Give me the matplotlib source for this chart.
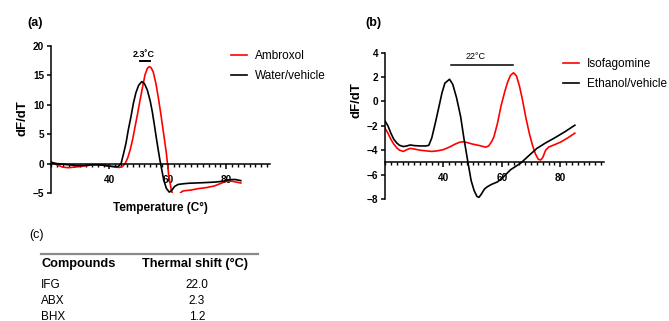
import matplotlib.pyplot as plt
from matplotlib.ticker import MultipleLocator
from matplotlib.lines import Line2D

plt.rcParams['font.family'] = ['Liberation Sans', 'DejaVu Sans']

# (a) melt curves, ambroxol vs water vehicle
temp_abx = [20, 22, 24, 26, 28, 30, 32, 34, 36, 38, 40, 42, 43.5, 44.5, 45.4, 46.3,
            47.1, 48, 48.8, 49.7, 50.5, 51.4, 52.2, 53, 53.65, 54.3, 55, 55.9, 56.7,
            57.6, 58.4, 59, 59.5, 60.3, 61.2, 62, 62.8, 63.6, 64.3, 65, 66, 68, 70.5,
            73, 76, 78, 80, 82, 84, 85]
dfdt_abx = [0.3, -0.2, -0.6, -0.7, -0.6, -0.5, -0.35, -0.25, -0.2, -0.25, -0.4, -0.6,
            -0.65, -0.5, 0.0, 1.0, 2.3, 4.2, 6.3, 8.6, 10.8, 13.1, 15.1, 16.2, 16.5,
            16.3, 15.6, 13.7, 11.4, 8.5, 5.7, 3.6, 1.8, -1.9, -4.5, -5.8, -6.0, -5.5,
            -5.0, -4.7, -4.6, -4.5, -4.25, -4.1, -3.8, -3.4, -3.0, -3.0, -3.2, -3.3]

temp_water = [20, 22, 24, 26, 28, 30, 32, 34, 36, 38, 40, 42, 43, 44, 45, 45.7, 46.5,
              47.4, 48.2, 49.05, 50, 51.1, 52, 53, 54, 54.7, 55.4, 56, 56.7, 57.3, 58,
              58.6, 59.5, 60.5, 61.3, 62.3, 63.5, 65, 67, 72, 76, 79, 81, 83, 85]
dfdt_water = [0.2, 0.0, -0.1, -0.2, -0.3, -0.35, -0.3, -0.2, -0.2, -0.3, -0.45, -0.5,
              -0.5, 0.0, 2.0, 3.5, 5.8, 8.0, 10.2, 12.0, 13.3, 13.95, 13.6, 12.5, 10.6,
              8.8, 6.6, 4.6, 2.4, 0.6, -1.2, -2.8, -4.2, -4.85, -4.6, -3.9, -3.55,
              -3.45, -3.35, -3.25, -3.15, -3.0, -2.75, -2.7, -2.9]

# (b) melt curves, isofagomine vs ethanol vehicle
temp_ifg = [20, 21, 22, 23, 24, 25, 26.3, 27.5, 28.6, 30, 32, 34, 36, 38, 40, 42, 44,
            45.5, 47, 48.5, 50, 52, 54.5, 55.5, 56.5, 57.3, 58.5, 59.7, 61, 62, 63, 64,
            65, 66, 67.1, 68.2, 69.4, 70.5, 71.5, 72.5, 73.3, 74, 75, 76, 78, 80, 82.5, 85]
dfdt_ifg = [-2.2, -2.6, -3.1, -3.5, -3.8, -4.0, -4.1, -3.95, -3.85, -3.9, -4.0, -4.05,
            -4.1, -4.05, -3.95, -3.75, -3.5, -3.35, -3.3, -3.4, -3.5, -3.6, -3.75, -3.65,
            -3.3, -2.9, -1.8, -0.4, 0.8, 1.6, 2.15, 2.35, 2.1, 1.3, 0.1, -1.3, -2.6,
            -3.6, -4.3, -4.75, -4.8, -4.6, -4.0, -3.75, -3.55, -3.35, -3.0, -2.6]

temp_eth = [20, 21, 22, 23, 24, 25, 26.3, 27.5, 28.6, 30, 32, 34, 35, 36, 37.2, 38.5,
            39.5, 40.5, 42.1, 43.2, 44.5, 45.9, 47, 48.4, 49.5, 50.5, 51.5, 52.2, 53,
            54, 55, 56.5, 58.5, 60.5, 63, 66.5, 69, 72, 75, 78, 81.5, 85]
dfdt_eth = [-1.6, -2.0, -2.6, -3.1, -3.4, -3.6, -3.7, -3.65, -3.57, -3.62, -3.65, -3.65,
            -3.6, -3.0, -1.8, -0.4, 0.7, 1.5, 1.82, 1.4, 0.3, -1.25, -3.0, -5.0, -6.5,
            -7.3, -7.8, -7.86, -7.6, -7.2, -7.0, -6.8, -6.6, -6.2, -5.6, -5.05, -4.5,
            -3.85, -3.4, -3.0, -2.5, -1.95]

# (c) thermal shift summary
compounds = ['IFG', 'ABX', 'BHX']
shifts = ['22.0', '2.3', '1.2']

fig = plt.figure(figsize=(6.69, 3.21), dpi=100)


def style_axes(ax, xaxis_y, ylim, ystep):
    ax.set_xlim(20, 95)
    ax.set_ylim(*ylim)
    ax.spines['top'].set_visible(False)
    ax.spines['right'].set_visible(False)
    ax.spines['bottom'].set_position(('data', xaxis_y))
    for s in ('left', 'bottom'):
        ax.spines[s].set_linewidth(1.1)
    ax.set_xticks([40, 60, 80])
    ax.xaxis.set_minor_locator(MultipleLocator(2))
    ax.yaxis.set_major_locator(MultipleLocator(ystep))
    ax.tick_params(axis='x', which='major', length=3.4, width=1.1, pad=4.5,
                   labelsize=7.2)
    ax.tick_params(axis='x', which='minor', length=2.2, width=1.0)
    ax.tick_params(axis='y', length=3, width=1.1, pad=2, labelsize=7.2)
    for lab in ax.get_xticklabels() + ax.get_yticklabels():
        lab.set_fontweight('bold')
    ax.set_ylabel('dF/dT', fontsize=9.5, fontweight='bold', va='center')


# panel (a)
ax1 = fig.add_axes([0.0762, 0.3988, 0.3274, 0.4579])
ax1.plot(temp_abx, dfdt_abx, color='red', lw=1.2, label='Ambroxol')
ax1.plot(temp_water, dfdt_water, color='black', lw=1.2, label='Water/vehicle')
style_axes(ax1, 0, (-5, 20), 5)
ax1.yaxis.set_label_coords(-0.128, 0.51)
ax1.set_xlabel('Temperature (C°)', fontsize=8.5, fontweight='bold', va='center')
ax1.xaxis.set_label_coords(0.5, -0.102)
ax1.plot([50.6, 53.9], [17.4, 17.4], color='black', lw=1.4)
ax1.text(51.9, 18.5, '2.3˚C', ha='center', va='center', fontsize=6.5,
         fontweight='bold')
ax1.legend(loc='upper left', bbox_to_anchor=(0.822, 0.975), frameon=False,
           fontsize=8.5, borderpad=0, borderaxespad=0, handlelength=1.35,
           handletextpad=0.65, labelspacing=0.72)

# panel (b)
ax2 = fig.add_axes([0.5755, 0.3801, 0.3274, 0.4558])
ax2.plot(temp_ifg, dfdt_ifg, color='red', lw=1.2, label='Isofagomine')
ax2.plot(temp_eth, dfdt_eth, color='black', lw=1.2, label='Ethanol/vehicle')
style_axes(ax2, -5, (-8, 4), 2)
ax2.yaxis.set_label_coords(-0.129, 0.677)
ax2.plot([42.6, 63.9], [3.0, 3.0], color='black', lw=1.1)
ax2.text(51.0, 3.7, '22°C', ha='center', va='center', fontsize=6.5)
ax2.legend(loc='upper left', bbox_to_anchor=(0.813, 0.962), frameon=False,
           fontsize=8.5, borderpad=0, borderaxespad=0, handlelength=1.35,
           handletextpad=0.65, labelspacing=0.66)

# panel letters
fig.text(0.052, 0.928, '(a)', ha='center', va='center', fontsize=9, fontweight='bold')
fig.text(0.558, 0.928, '(b)', ha='center', va='center', fontsize=9, fontweight='bold')
fig.text(0.054, 0.268, '(c)', ha='center', va='center', fontsize=9)

# panel (c) table
W, H = 669, 321
fig.add_artist(Line2D([41 / W, 258 / W], [1 - 254 / H, 1 - 254 / H],
                      color='#8a8a8a', lw=1.6))
fig.text(41 / W, 1 - 264 / H, 'Compounds', ha='left', va='center', fontsize=9.2,
         fontweight='bold')
fig.text(194.5 / W, 1 - 264 / H, 'Thermal shift (°C)', ha='center', va='center',
         fontsize=9.2, fontweight='bold')
for i, (name, val) in enumerate(zip(compounds, shifts)):
    y = 1 - (285 + 16 * i) / H
    fig.text(41 / W, y, name, ha='left', va='center', fontsize=8.5)
    fig.text(197 / W, y, val, ha='center', va='center', fontsize=8.5)

fig.savefig('out.png', dpi=100)
